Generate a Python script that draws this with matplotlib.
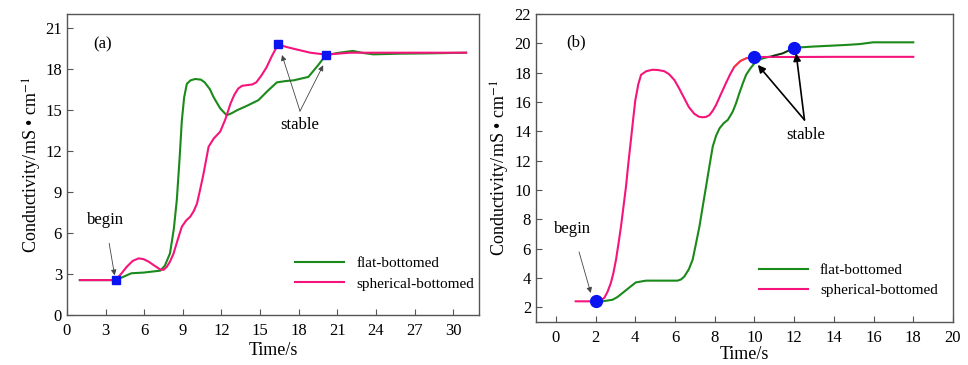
import matplotlib.pyplot as plt

plt.rcParams['font.family'] = ['Liberation Serif', 'DejaVu Sans']
plt.rcParams['mathtext.fontset'] = 'stix'

GREEN = '#1a8a1a'
PINK = '#f5147c'
BLUE = '#0a14f0'

# ---- panel (a) data ----
ta_flat = [1.0, 3.0, 3.78, 4.4, 5.0, 5.95, 7.24, 7.6, 8.0, 8.3, 8.53, 8.75, 8.92, 9.1, 9.31,
           9.6, 9.96, 10.4, 10.7, 11.1, 11.4, 11.9, 12.4, 12.8, 13.2, 14.0, 14.87, 15.5,
           16.3, 17.0, 17.6, 18.75, 19.5, 20.1, 21.0, 22.2, 23.0, 23.8, 25.9, 28.0, 31.0]
ya_flat = [2.55, 2.55, 2.55, 2.8, 3.05, 3.1, 3.24, 3.6, 4.5, 6.3, 8.4, 11.5, 14.2, 15.9, 16.9,
           17.15, 17.25, 17.2, 17.0, 16.5, 15.9, 15.1, 14.6, 14.75, 14.96, 15.3, 15.7, 16.3,
           17.0, 17.1, 17.15, 17.4, 18.25, 18.98, 19.15, 19.3, 19.15, 19.05, 19.1, 19.12, 19.17]

ta_sph = [1.0, 3.0, 3.78, 4.2, 4.65, 5.1, 5.56, 5.95, 6.34, 6.8, 7.24, 7.5, 7.76, 8.0, 8.28,
          8.6, 8.92, 9.25, 9.57, 9.85, 10.1, 10.35, 10.6, 10.8, 11.0, 11.4, 11.9, 12.3, 12.7,
          13.0, 13.3, 13.6, 14.0, 14.4, 14.7, 15.1, 15.5, 15.9, 16.4, 17.0, 17.6, 18.9,
          20.1, 22.0, 25.9, 31.0]
ya_sph = [2.55, 2.55, 2.55, 3.0, 3.53, 3.95, 4.14, 4.08, 3.9, 3.6, 3.33, 3.3, 3.53, 3.9, 4.5,
          5.5, 6.45, 6.9, 7.18, 7.6, 8.15, 9.2, 10.3, 11.3, 12.3, 12.9, 13.4, 14.3, 15.45,
          16.1, 16.55, 16.75, 16.8, 16.85, 17.0, 17.5, 18.1, 18.9, 19.78, 19.6, 19.46, 19.17,
          19.03, 19.17, 19.17, 19.17]

ma_t = [3.78, 16.4, 20.1]
ma_y = [2.55, 19.78, 18.98]

# ---- panel (b) data ----
tb_flat = [2.0, 2.4, 2.86, 3.1, 3.36, 3.7, 4.03, 4.54, 5.21, 6.13, 6.3, 6.47, 6.7, 6.89, 7.05,
           7.23, 7.4, 7.56, 7.73, 7.9, 8.07, 8.24, 8.45, 8.66, 8.91, 9.07, 9.24, 9.41, 9.58,
           9.8, 10.0, 10.2, 10.42, 10.92, 11.43, 12.02, 12.94, 14.6, 15.3, 15.97, 17.0, 18.0]
yb_flat = [2.41, 2.42, 2.52, 2.7, 2.98, 3.35, 3.7, 3.82, 3.82, 3.82, 3.9, 4.1, 4.6, 5.25, 6.3,
           7.5, 8.9, 10.2, 11.6, 12.96, 13.7, 14.2, 14.55, 14.78, 15.35, 15.9, 16.6, 17.25, 17.85,
           18.3, 18.64, 18.85, 18.98, 19.14, 19.32, 19.7, 19.78, 19.89, 19.95, 20.07, 20.07, 20.07]

tb_sph = [1.0, 2.0, 2.2, 2.44, 2.6, 2.77, 2.9, 3.03, 3.15, 3.28, 3.4, 3.53, 3.65, 3.78, 3.9,
          4.0, 4.15, 4.29, 4.55, 4.87, 5.15, 5.46, 5.7, 5.97, 6.2, 6.47, 6.7, 6.97, 7.2, 7.39,
          7.55, 7.73, 7.9, 8.07, 8.3, 8.57, 8.8, 8.99]
yb_sph = [2.41, 2.41, 2.45, 2.64, 3.05, 3.66, 4.35, 5.25, 6.3, 7.5, 8.8, 10.2, 11.8, 13.4, 14.9,
          16.1, 17.2, 17.85, 18.1, 18.2, 18.18, 18.1, 17.9, 17.5, 16.95, 16.25, 15.65, 15.2, 15.0, 14.96,
          14.98, 15.1, 15.4, 15.8, 16.5, 17.3, 17.95, 18.4]
tb_red = [8.99, 9.3, 9.58, 10.0]
yb_red = [18.4, 18.8, 18.98, 19.07]
tb_sph2 = [10.0, 12.0, 14.0, 16.0, 18.0]
yb_sph2 = [19.07, 19.07, 19.08, 19.08, 19.08]
tb_black = [10.92, 11.43, 12.02]
yb_black = [19.14, 19.32, 19.7]

mb_t = [2.0, 10.0, 12.0]
mb_y = [2.41, 19.07, 19.7]

fig = plt.figure(figsize=(9.68, 3.65), dpi=100)
ax1 = fig.add_axes([0.0692, 0.137, 0.4256, 0.8247])
ax2 = fig.add_axes([0.5537, 0.1178, 0.4308, 0.8438])

# panel (a)
ax1.plot(ta_flat, ya_flat, color=GREEN, lw=1.5, label='flat-bottomed')
ax1.plot(ta_sph, ya_sph, color=PINK, lw=1.5, label='spherical-bottomed')
ax1.plot(ma_t, ma_y, 's', color=BLUE, ms=6, ls='none')
ax1.set_xlim(0, 32)
ax1.set_ylim(0, 22)
ax1.set_xticks(range(0, 31, 3))
ax1.set_yticks(range(0, 22, 3))
ax1.set_xlabel('Time/s', fontsize=13, labelpad=2)
ax1.set_ylabel('Conductivity/mS \u2022 cm$^{-1}$', fontsize=13, labelpad=1)
ax1.text(2.8, 19.8, '(a)', fontsize=12, ha='center', va='center')
ax1.annotate('begin', xy=(3.7, 2.9), xytext=(2.97, 6.93), fontsize=12, ha='center', va='center',
             arrowprops=dict(arrowstyle='-|>', color='#444444', lw=0.6, mutation_scale=8,
                             shrinkA=9, shrinkB=0))
for xy in [(16.7, 19.0), (19.9, 18.25)]:
    ax1.annotate('', xy=xy, xytext=(18.1, 14.9),
                 arrowprops=dict(arrowstyle='-|>', color='#444444', lw=0.6, mutation_scale=8,
                                 shrinkA=0, shrinkB=0))
ax1.text(18.1, 13.87, 'stable', fontsize=12, ha='center', va='center')
ax1.legend(loc='lower right', frameon=False, fontsize=11, handlelength=3.2,
           borderaxespad=0.6, labelspacing=0.45, bbox_to_anchor=(1.025, 0.03))

# panel (b)
ax2.plot(tb_flat, yb_flat, color=GREEN, lw=1.5, label='flat-bottomed')
ax2.plot(tb_sph + tb_red[1:] + tb_sph2[1:], yb_sph + yb_red[1:] + yb_sph2[1:], color=PINK, lw=1.5,
         label='spherical-bottomed')
ax2.plot(tb_red, yb_red, color='#ff3b2a', lw=1.0)
ax2.plot(tb_black, yb_black, color='#222222', lw=1.0)
ax2.plot(mb_t, mb_y, 'o', color=BLUE, ms=8.5, ls='none')
ax2.set_xlim(-1, 20)
ax2.set_ylim(1, 22)
ax2.set_xticks(range(0, 21, 2))
ax2.set_yticks(range(2, 23, 2))
ax2.set_xlabel('Time/s', fontsize=13, labelpad=0)
ax2.set_ylabel('Conductivity/mS \u2022 cm$^{-1}$', fontsize=13, labelpad=2)
ax2.text(1.0, 20.07, '(b)', fontsize=12, ha='center', va='center')
ax2.annotate('begin', xy=(1.76, 2.98), xytext=(0.84, 7.33), fontsize=12, ha='center', va='center',
             arrowprops=dict(arrowstyle='-|>', color='#444444', lw=0.6, mutation_scale=8,
                             shrinkA=9, shrinkB=0))
for xy in [(10.17, 18.53), (12.1, 19.32)]:
    ax2.annotate('', xy=xy, xytext=(12.52, 14.78),
                 arrowprops=dict(arrowstyle='-|>', color='black', lw=1.2, mutation_scale=11,
                                 shrinkA=0, shrinkB=0))
ax2.text(12.57, 13.76, 'stable', fontsize=12, ha='center', va='center')
ax2.legend(loc='lower right', frameon=False, fontsize=11, handlelength=3.2,
           borderaxespad=0.6, labelspacing=0.45, bbox_to_anchor=(1.0, 0.03))

for ax in (ax1, ax2):
    for s in ax.spines.values():
        s.set_color('#555555')
        s.set_linewidth(1.0)
    ax.tick_params(direction='in', length=4, width=0.8, color='#555555', labelsize=12,
                   top=False, right=False)
    ax.tick_params(axis='x', pad=6)

plt.savefig('out.png', dpi=100)
